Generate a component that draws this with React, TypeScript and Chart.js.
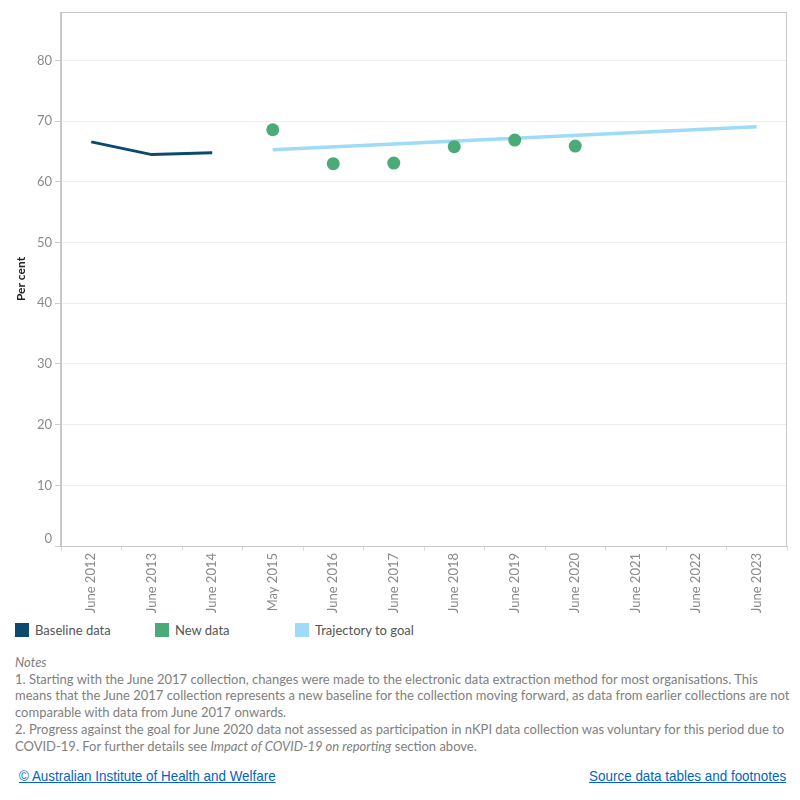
import React, { useEffect, useRef } from "react";
import { Chart, registerables } from "chart.js";

Chart.register(...registerables);

const categories = [
  "June 2012", "June 2013", "June 2014", "May 2015", "June 2016", "June 2017",
  "June 2018", "June 2019", "June 2020", "June 2021", "June 2022", "June 2023",
];
const baselineData = [66.6, 64.5, 64.8, null, null, null, null, null, null, null, null, null];
const newData = [null, null, null, 68.6, 63.0, 63.1, 65.8, 66.9, 65.9, null, null, null];
const trajectoryData = [null, null, null, 65.3, null, null, null, null, null, null, null, 69.1];
const yTickValues = [0, 10, 20, 30, 40, 50, 60, 70, 80];
const yMax = 88;

const C_BASE = "#0b4a6e";
const C_NEW = "#4aab79";
const C_TRAJ = "#9ddbf8";
const FONT = "Lato, 'Open Sans', sans-serif";

const framePlugin = {
  id: "frame",
  afterDraw(chart: any) {
    const { ctx, chartArea } = chart;
    ctx.save();
    ctx.strokeStyle = "#c8c8c8";
    ctx.lineWidth = 1;
    ctx.strokeRect(chartArea.left - 0.5, chartArea.top + 0.5, chartArea.right - chartArea.left, chartArea.bottom - chartArea.top);
    // zero label drawn slightly above its tick, as in the original
    ctx.fillStyle = "#8a8a8a";
    ctx.font = "13px " + FONT;
    ctx.textAlign = "right";
    ctx.textBaseline = "middle";
    const y0 = chart.scales.y.getPixelForValue(0);
    ctx.fillText(String(yTickValues[0]), chartArea.left - 9, y0 - 7);
    ctx.fillStyle = "#222";
    ctx.font = "bold 12px " + FONT;
    ctx.translate(21, 279);
    ctx.rotate(-Math.PI / 2);
    ctx.textAlign = "center";
    ctx.textBaseline = "middle";
    ctx.fillText("Per cent", 0, 0);
    ctx.restore();
  },
};

function App() {
  const ref = useRef<HTMLCanvasElement>(null);
  useEffect(() => {
    if (!ref.current) return;
    const chart = new Chart(ref.current, {
      type: "line",
      data: {
        labels: categories,
        datasets: [
          {
            label: "Baseline data",
            data: baselineData,
            borderColor: C_BASE,
            backgroundColor: C_BASE,
            borderWidth: 3,
            pointRadius: 0,
            spanGaps: false,
          },
          {
            label: "New data",
            data: newData,
            showLine: false,
            borderColor: C_NEW,
            backgroundColor: C_NEW,
            pointRadius: 6.5,
            pointBorderWidth: 0,
          },
          {
            label: "Trajectory to goal",
            data: trajectoryData,
            borderColor: C_TRAJ,
            backgroundColor: C_TRAJ,
            borderWidth: 3.5,
            pointRadius: 0,
            spanGaps: true,
          },
        ],
      } as any,
      options: {
        animation: false,
        responsive: false,
        devicePixelRatio: 1,
        layout: { padding: { left: 0, top: 12, right: 13, bottom: 0 } },
        plugins: { legend: { display: false }, tooltip: { enabled: false } },
        scales: {
          x: {
            type: "category",
            offset: true,
            grid: {
              display: true,
              drawOnChartArea: false,
              drawTicks: true,
              tickLength: 5,
              color: "#dddddd",
              offset: true,
            },
            border: { display: true, color: "#c8c8c8" },
            ticks: {
              minRotation: 90,
              maxRotation: 90,
              autoSkip: false,
              padding: 2,
              color: "#8a8a8a",
              font: { family: FONT, size: 13 },
            },
            afterFit(scale: any) {
              scale.height = 69;
            },
          },
          y: {
            min: 0,
            max: yMax,
            afterBuildTicks(scale: any) {
              scale.ticks = yTickValues.map((v) => ({ value: v }));
            },
            grid: { color: "#eeeeee", tickColor: "#cccccc", tickLength: 6 },
            border: { display: true, color: "#c8c8c8" },
            ticks: {
              padding: 3,
              color: "#8a8a8a",
              font: { family: FONT, size: 13 },
              callback: (v: any) => (v === 0 ? "" : String(v)),
            },
            afterFit(scale: any) {
              scale.width = 61;
            },
          },
        },
      } as any,
      plugins: [framePlugin],
    });
    return () => chart.destroy();
  }, []);

  const legendItems = [
    { label: "Baseline data", color: C_BASE, x: 15 },
    { label: "New data", color: C_NEW, x: 155 },
    { label: "Trajectory to goal", color: C_TRAJ, x: 295 },
  ];

  const noteLines = [
    "1. Starting with the June 2017 collection, changes were made to the electronic data extraction method for most organisations. This",
    "means that the June 2017 collection represents a new baseline for the collection moving forward, as data from earlier collections are not",
    "comparable with data from June 2017 onwards.",
    "2. Progress against the goal for June 2020 data not assessed as participation in nKPI data collection was voluntary for this period due to",
  ];

  const linkStyle: any = {
    position: "absolute",
    top: 767,
    fontSize: 15,
    fontFamily: "'Liberation Sans Narrow', 'Liberation Sans', sans-serif",
    color: "#0563c1",
    textDecoration: "underline",
    whiteSpace: "nowrap",
    transform: "scaleX(0.895)",
  };

  return (
    <div style={{ position: "absolute", left: 0, top: 0, width: 800, height: 800, background: "#fff", fontFamily: FONT }}>
      <canvas ref={ref} width={800} height={615} style={{ display: "block", width: 800, height: 615 }} />
      {legendItems.map((it) => (
        <div key={it.label} style={{ position: "absolute", left: it.x, top: 623, display: "flex", alignItems: "center", height: 14 }}>
          <div style={{ width: 14, height: 14, background: it.color }} />
          <span style={{ marginLeft: 6, fontSize: 13, color: "#555", whiteSpace: "nowrap" }}>{it.label}</span>
        </div>
      ))}
      <div style={{ position: "absolute", left: 15, top: 654, fontSize: 13, lineHeight: "16.7px", color: "#808080", whiteSpace: "nowrap" }}>
        <div style={{ fontStyle: "italic" }}>Notes</div>
        {noteLines.map((l, i) => (
          <div key={i}>{l}</div>
        ))}
        <div>
          COVID-19. For further details see <i>Impact of COVID-19 on reporting</i> section above.
        </div>
      </div>
      <div style={{ ...linkStyle, left: 19, transformOrigin: "left center" }}>
        © Australian Institute of Health and Welfare
      </div>
      <div style={{ ...linkStyle, right: 14, transformOrigin: "right center" }}>
        Source data tables and footnotes
      </div>
    </div>
  );
}

export default App;
